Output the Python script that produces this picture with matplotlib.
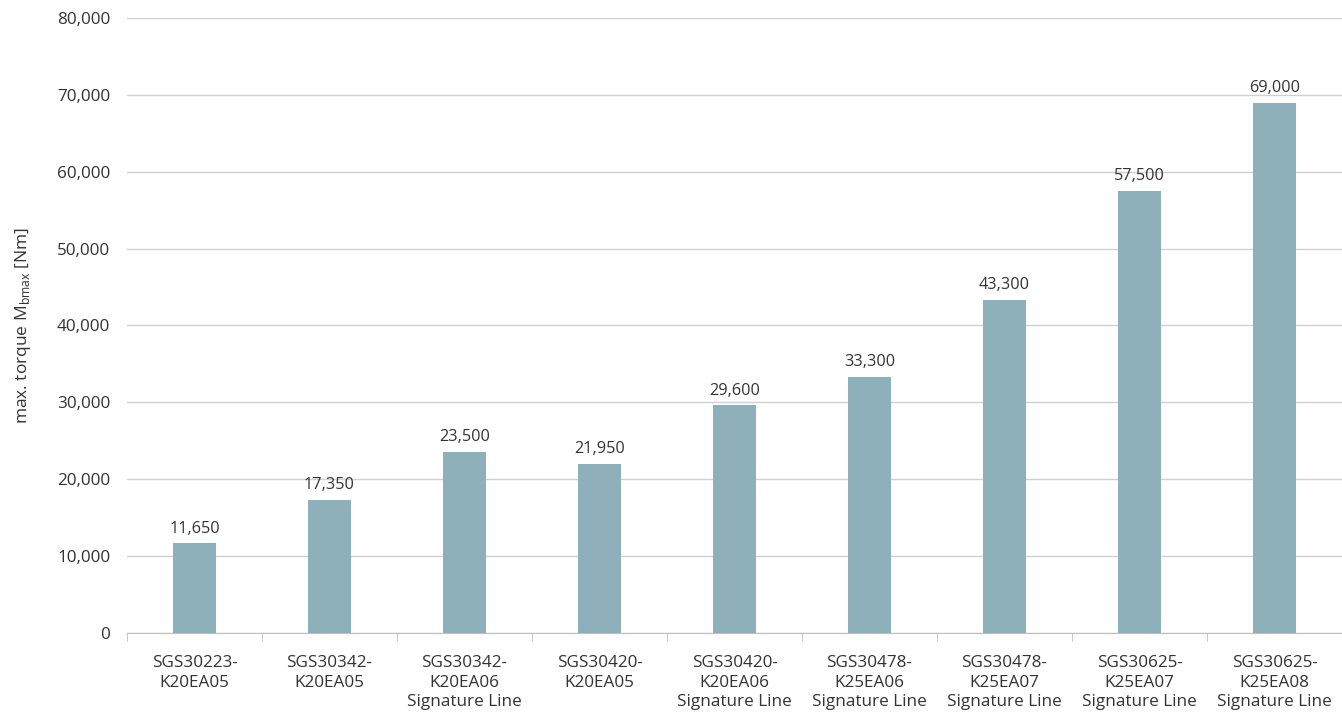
import numpy as np
from matplotlib import pyplot as plt
from matplotlib.ticker import FuncFormatter, FixedLocator

# Categories and values
modelos = ['SGS30223-\nK20EA05', 'SGS30342-\nK20EA05', 'SGS30342-\nK20EA06\nSignature Line',
           'SGS30420-\nK20EA05', 'SGS30420-\nK20EA06\nSignature Line', 'SGS30478-\nK25EA06\nSignature Line',
           'SGS30478-\nK25EA07\nSignature Line', 'SGS30625-\nK25EA07\nSignature Line',
           'SGS30625-\nK25EA08\nSignature Line']
torque = [11650, 17350, 23500, 21950, 29600, 33300, 43300, 57500, 69000]

plt.rcParams['font.family'] = ['Open Sans', 'DejaVu Sans']

fig = plt.figure(figsize=(13.42, 7.16), dpi=100)
ax = fig.add_axes([0.0946, 0.1159, 0.9054, 0.859])

x = np.arange(len(modelos))
barras = ax.bar(x, torque, width=0.32, color='#8DB0BB', zorder=3)

for xi, v in zip(x, torque):
    ax.text(xi, v + 900, f'{v:,}', ha='center', va='bottom', fontsize=11.7, color='#333333')

ax.set_xlim(-0.5, len(modelos) - 0.5)
ax.set_ylim(0, 80000)
ax.set_yticks(np.arange(0, 80001, 10000))
ax.yaxis.set_major_formatter(FuncFormatter(lambda v, p: f'{int(v):,}'))
ax.grid(axis='y', color='#d0d0d0', linewidth=1, zorder=0)

ax.set_xticks(x)
ax.set_xticklabels(modelos, fontsize=12.3, color='#333333', va='top', linespacing=1.3)
ax.xaxis.set_minor_locator(FixedLocator(np.arange(-0.5, len(modelos), 1)))
ax.tick_params(axis='x', which='major', length=0, pad=16)
ax.tick_params(axis='x', which='minor', length=6, color='#bfbfbf')
ax.tick_params(axis='y', length=0, labelsize=12.3, labelcolor='#333333', pad=12)

for lado in ['top', 'right', 'left']:
    ax.spines[lado].set_visible(False)
ax.spines['bottom'].set_color('#bfbfbf')

ax.set_ylabel('max. torque M$_{\\mathregular{bmax}}$ [Nm]', fontsize=12.5, color='#333333', labelpad=17)

plt.savefig('out.png', dpi=100)
